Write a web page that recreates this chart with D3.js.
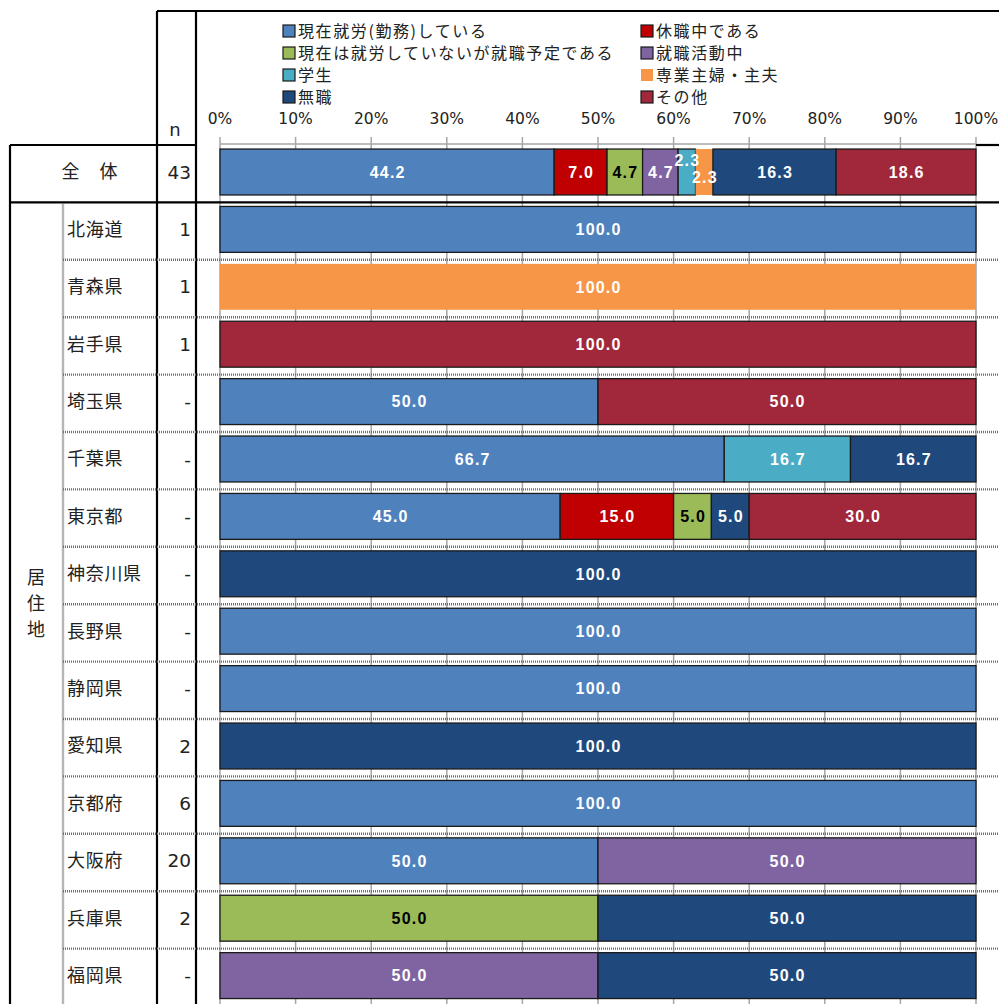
<!DOCTYPE html>
<html>
<head>
<meta charset="utf-8">
<script src="https://cdn.jsdelivr.net/npm/d3@7"></script>
<style>
  html, body { margin: 0; padding: 0; background: #fff; }
  svg { display: block; }
  .jp { font-family: "Noto Sans CJK JP", "Noto Sans", sans-serif; }
  .num { font-family: "DejaVu Sans", sans-serif; }
  .lbl { font-family: "Liberation Sans", Arial, sans-serif; font-weight: bold; }
</style>
</head>
<body>
<svg id="chart" width="999" height="1004"></svg>
<script>
// Series (stack order) and legend colours
const seriesNames = [
  "現在就労(勤務)している",
  "休職中である",
  "現在は就労していないが就職予定である",
  "就職活動中",
  "学生",
  "専業主婦・主夫",
  "無職",
  "その他"
];
const seriesColors = ["#4F81BD", "#C00000", "#9BBB59", "#8064A2", "#4BACC6", "#F79646", "#1F497D", "#A0283A"];

// Rows
const rowLabels = ["全　体", "北海道", "青森県", "岩手県", "埼玉県", "千葉県", "東京都", "神奈川県",
                   "長野県", "静岡県", "愛知県", "京都府", "大阪府", "兵庫県", "福岡県"];
const nValues = ["43", "1", "1", "1", "-", "-", "-", "-", "-", "-", "2", "6", "20", "2", "-"];

// Percentages per series, one value per row (same order as rowLabels)
const working      = [44.2, 100,   0,   0, 50, 66.7, 45, 0, 100, 100,   0, 100, 50,  0,  0];
const onLeave      = [ 7.0,   0,   0,   0,  0,    0, 15, 0,   0,   0,   0,   0,  0,  0,  0];
const jobPlanned   = [ 4.7,   0,   0,   0,  0,    0,  5, 0,   0,   0,   0,   0,  0, 50,  0];
const jobHunting   = [ 4.7,   0,   0,   0,  0,    0,  0, 0,   0,   0,   0,   0, 50,  0, 50];
const student      = [ 2.3,   0,   0,   0,  0, 16.7,  0, 0,   0,   0,   0,   0,  0,  0,  0];
const homemaker    = [ 2.3,   0, 100,   0,  0,    0,  0, 0,   0,   0,   0,   0,  0,  0,  0];
const unemployed   = [16.3,   0,   0,   0,  0, 16.7,  5, 100, 0,   0, 100,   0,  0, 50, 50];
const other        = [18.6,   0,   0, 100, 50,    0, 30, 0,   0,   0,   0,   0,  0,  0,  0];

const seriesValues = [working, onLeave, jobPlanned, jobHunting, student, homemaker, unemployed, other];
const tickValues = [0, 10, 20, 30, 40, 50, 60, 70, 80, 90, 100];
const regionLabel = ["居", "住", "地"];

const svg = d3.select("#chart");
const W = 999, H = 1004;

// Scales
const x = d3.scaleLinear().domain([0, 100]).range([220, 976]);
const y = d3.scaleBand().domain(d3.range(rowLabels.length))
  .range([143.3, 1004.3]).paddingInner(0.2).paddingOuter(0.1);
const step = y.step();
const rowTop = i => 143.3 + step * i + 1.7;

// Gridlines (behind the bars)
svg.append("g").selectAll("line").data(tickValues).join("line")
  .attr("x1", d => x(d)).attr("x2", d => x(d))
  .attr("y1", 137).attr("y2", H)
  .attr("stroke", "#a6a6a6").attr("stroke-width", 1.5);

// Plot-area top edge
svg.append("line").attr("x1", x(0)).attr("x2", x(100)).attr("y1", 144).attr("y2", 144)
  .attr("stroke", "#a6a6a6").attr("stroke-width", 1.5);

// Tick labels
svg.append("g").selectAll("text").data(tickValues).join("text")
  .attr("class", "num")
  .attr("x", d => x(d)).attr("y", 124)
  .attr("text-anchor", "middle").attr("font-size", 15.5).attr("fill", "#222")
  .text(d => d + "%");

// Table frame
const frame = svg.append("g").attr("stroke", "#000").attr("stroke-width", 2.2);
frame.append("line").attr("x1", 157).attr("x2", W).attr("y1", 11).attr("y2", 11);
frame.append("line").attr("x1", 10).attr("x2", 196).attr("y1", 145).attr("y2", 145);
frame.append("line").attr("x1", x(100)).attr("x2", W).attr("y1", 145).attr("y2", 145);
frame.append("line").attr("x1", 10).attr("x2", W).attr("y1", rowTop(1)).attr("y2", rowTop(1));
frame.append("line").attr("x1", 157).attr("x2", 157).attr("y1", 11).attr("y2", H);
frame.append("line").attr("x1", 196).attr("x2", 196).attr("y1", 11).attr("y2", H);
frame.append("line").attr("x1", 10).attr("x2", 10).attr("y1", 145).attr("y2", H);

// Dotted row separators and region column divider
const dots = svg.append("g").attr("stroke", "#6e6e6e").attr("stroke-width", 2.4).attr("stroke-dasharray", "1,1");
d3.range(2, rowLabels.length).forEach(i => {
  dots.append("line").attr("x1", 63).attr("x2", W).attr("y1", rowTop(i)).attr("y2", rowTop(i));
});
dots.append("line").attr("x1", 63).attr("x2", 63).attr("y1", rowTop(1) + 1).attr("y2", H);

// Header "n"
svg.append("text").attr("class", "num").attr("x", 175).attr("y", 136)
  .attr("text-anchor", "middle").attr("font-size", 18).attr("fill", "#222").text("n");

// Row labels
svg.append("g").selectAll("text").data(rowLabels).join("text")
  .attr("class", "jp")
  .attr("x", (d, i) => i === 0 ? 90 : 67)
  .attr("y", (d, i) => y(i) + y.bandwidth() / 2)
  .attr("dy", "0.36em")
  .attr("text-anchor", (d, i) => i === 0 ? "middle" : "start")
  .attr("font-size", 18).attr("letter-spacing", (d, i) => i === 0 ? 1 : 0.7)
  .attr("fill", "#222")
  .text(d => d);

// n column
svg.append("g").selectAll("text").data(nValues).join("text")
  .attr("class", "num")
  .attr("x", 191)
  .attr("y", (d, i) => y(i) + y.bandwidth() / 2)
  .attr("dy", "0.36em")
  .attr("text-anchor", "end").attr("font-size", 18.5).attr("fill", "#222")
  .text(d => d);

// Vertical region label
svg.append("g").selectAll("text").data(regionLabel).join("text")
  .attr("class", "jp")
  .attr("x", 36).attr("y", (d, i) => 578 + i * 26)
  .attr("dy", "0.36em").attr("text-anchor", "middle")
  .attr("font-size", 18).attr("fill", "#222")
  .text(d => d);

// Stacked bars
const stacked = rowLabels.map((r, ri) => {
  let acc = 0;
  return seriesNames.map((s, si) => {
    const v = seriesValues[si][ri];
    const seg = { row: ri, series: si, v, x0: acc, x1: acc + v };
    acc += v;
    return seg;
  }).filter(d => d.v > 0);
});
const segments = stacked.flat();

svg.append("g").selectAll("rect").data(segments).join("rect")
  .attr("x", d => x(d.x0))
  .attr("y", d => y(d.row))
  .attr("width", d => x(Math.min(d.x1, 100)) - x(d.x0))
  .attr("height", y.bandwidth())
  .attr("fill", d => seriesColors[d.series])
  .attr("stroke", d => d.series === 5 ? "none" : "#1a1a1a")
  .attr("stroke-width", 1.3);

// Value labels; narrow segments get their labels staggered above/below
stacked.forEach(row => {
  let k = 0;
  row.forEach(d => {
    const w = x(d.x1) - x(d.x0);
    d.dy = 0;
    if (w < 25) { d.dy = (k % 2 === 0) ? -11.5 : 5.5; k++; }
  });
});

svg.append("g").selectAll("text").data(segments).join("text")
  .attr("class", "lbl")
  .attr("x", d => (x(d.x0) + x(Math.min(d.x1, 100))) / 2 + 0.6)
  .attr("y", d => y(d.row) + y.bandwidth() / 2 + d.dy)
  .attr("dy", "0.36em")
  .attr("text-anchor", "middle")
  .attr("font-size", 16).attr("letter-spacing", 1.2)
  .attr("fill", d => d.series === 2 ? "#000" : "#fff")
  .text(d => d.v.toFixed(1));

// Legend (two columns)
const legend = svg.append("g").selectAll("g").data(seriesNames).join("g")
  .attr("transform", (d, i) => `translate(${i % 2 === 0 ? 283 : 641},${31 + Math.floor(i / 2) * 22})`);
legend.append("rect")
  .attr("x", 0).attr("y", -6).attr("width", 12).attr("height", 12)
  .attr("fill", (d, i) => seriesColors[i])
  .attr("stroke", (d, i) => i === 5 ? "none" : "#1a1a1a").attr("stroke-width", 1.2);
legend.append("text")
  .attr("class", "jp")
  .attr("x", 15).attr("y", 0).attr("dy", "0.36em")
  .attr("font-size", 16).attr("letter-spacing", 1.6).attr("fill", "#222")
  .text(d => d);
</script>
</body>
</html>
